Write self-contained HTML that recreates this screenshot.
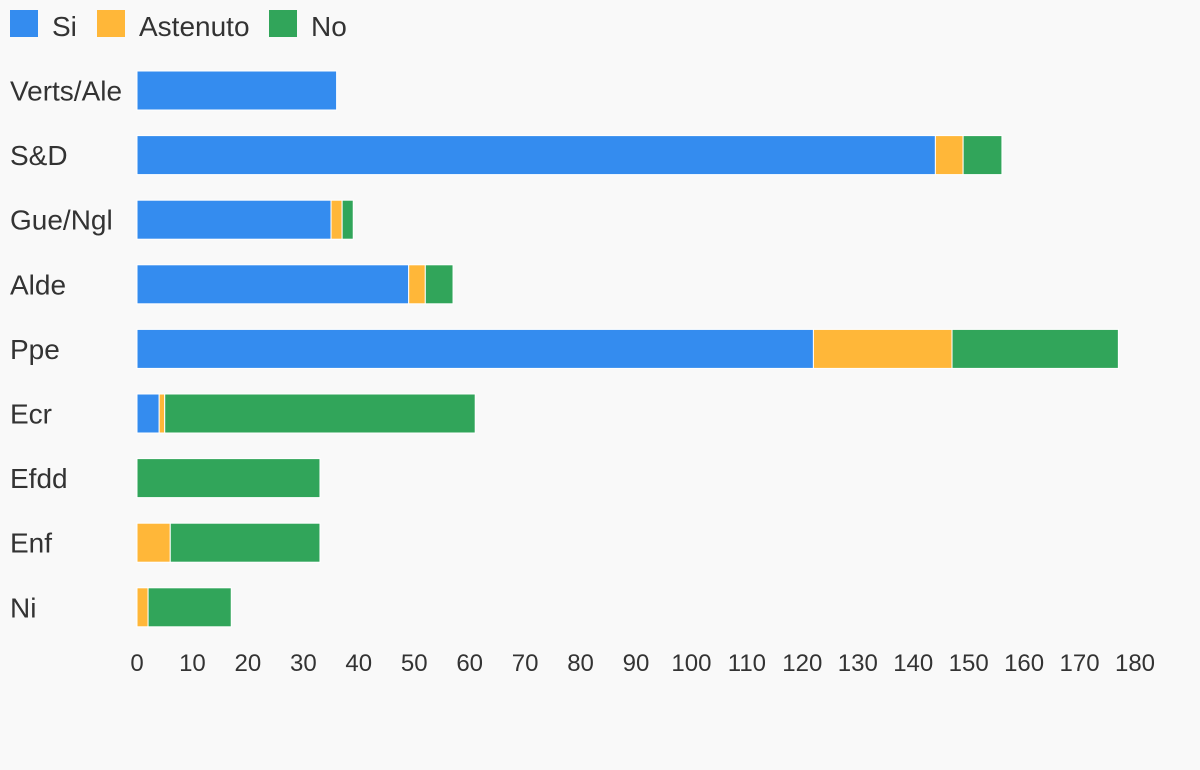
<!DOCTYPE html>
<html><head><meta charset="utf-8"><style>
body{margin:0;background:#f9f9f9;font-family:"Liberation Sans",sans-serif;}
svg{display:block}
</style></head><body>
<svg id="chart" width="1200" height="770">
<rect width="1200" height="770" fill="#f9f9f9"/>
<g id="legend"></g>
<g id="bars"></g>
<g id="ylabels"></g>
<g id="xticks"></g>
</svg>
<script>
const categories=["Verts/Ale","S&D","Gue/Ngl","Alde","Ppe","Ecr","Efdd","Enf","Ni"];
const seriesNames=["Si","Astenuto","No"];
const si=[36,144,35,49,122,4,0,0,0];
const astenuto=[0,5,2,3,25,1,0,6,2];
const no=[0,7,2,5,30,56,33,27,15];
const xTicks=[0,10,20,30,40,50,60,70,80,90,100,110,120,130,140,150,160,170,180];
const colors=["#348cef","#ffb739","#31a55a"];
const NS="http://www.w3.org/2000/svg";
const x=v=>137+v*(1135-137)/180;
const yTop=i=>71+i*64.6;
const barH=39;
function mk(tag,attrs,parent){const e=document.createElementNS(NS,tag);for(const k in attrs)e.setAttribute(k,attrs[k]);parent.appendChild(e);return e;}
const series=[si,astenuto,no];
const lg=document.getElementById('legend');
const lx=[10,97,269];
seriesNames.forEach((n,s)=>{
 const r=mk('rect',{x:lx[s],y:10,width:28,height:27,fill:colors[s]},lg);
 
 
 const t=mk('text',{x:lx[s]+42,y:36,'font-size':28,fill:'#333'},lg);t.textContent=n;
 
 
});
const bg=document.getElementById('bars');
const yl=document.getElementById('ylabels');
categories.forEach((c,i)=>{
 let acc=0;
 series.forEach((arr,s)=>{
  const v=arr[i];
  if(v>0){
   const r=mk('rect',{x:x(acc),y:yTop(i),width:x(acc+v)-x(acc),height:barH,fill:colors[s],stroke:'#fff','stroke-width':1},bg);
   
   
  }
  acc+=v;
 });
 const t=mk('text',{x:10,y:yTop(i)+barH/2+10,'font-size':28,fill:'#333'},yl);t.textContent=c;
 
 
});
const xt=document.getElementById('xticks');
xTicks.forEach(v=>{
 const t=mk('text',{x:x(v),y:671,'font-size':24,fill:'#333','text-anchor':'middle'},xt);t.textContent=v;
 
 
});
</script>
</body></html>
